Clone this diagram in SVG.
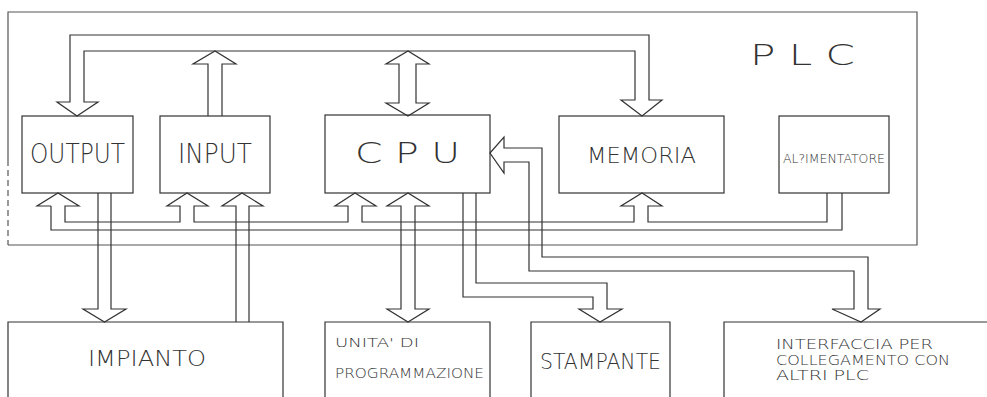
<svg xmlns="http://www.w3.org/2000/svg" width="987" height="397" viewBox="0 0 987 397">
<style>
.ln{fill:none;stroke:#333;stroke-width:1.2;stroke-linejoin:miter}
.box{fill:none;stroke:#333;stroke-width:1.2}
.frame{fill:none;stroke:#555;stroke-width:1.2}
.t{font-family:"DejaVu Sans","Liberation Sans",sans-serif;font-weight:200;fill:#333}
</style>
<rect width="987" height="397" fill="#fff"/>
<g id="plc-frame">
<path class="frame" d="M8,160 V12 H917 V245 H8"/>
<path class="frame" d="M8,160 V245" stroke-dasharray="6,4"/>
<text class="t" x="750" y="65" font-size="29" textLength="105" lengthAdjust="spacingAndGlyphs">P L C</text>
</g>
<g id="connectors">
<path class="ln" d="M70,102 H57 L77,116 L98,102 H84 V51 H635 V100 H621 L642,116 L662,100 H649 V35 H70 Z"/>
<path class="ln" d="M208,116 V64 H193 L215,51 L236,64 H222 V116"/>
<path class="ln" d="M399,64 H386 L408,51 L429,64 H416 V103 H429 L408,116 L386,103 H399 Z"/>
<path class="ln" d="M51,206 H37 L58,193 L79,206 H65 V222 H180 V206 H167 L187,193 L208,206 H194 V222 H348 V206 H335 L355,193 L376,206 H362 V222 H634 V206 H621 L642,193 L662,206 H648 V222 H827 V193 M842,193 V230 H51 V206"/>
<path class="ln" d="M236,322 V206 H222 L242,193 L263,206 H249 V322"/>
<path class="ln" d="M98,193 V309 H83 L104.5,322 L126,309 H111 V193"/>
<path class="ln" d="M401,206 H387 L408,193 L429,206 H415 V309 H429 L408,322 L387,309 H401 Z"/>
<path class="ln" d="M463,193 V297 H593 V309 H579 L600,322 L622,309 H607 V283 H476 V193"/>
<path class="ln" d="M490,153 L504,137 V148 H542 V257 H868 V309 H880 L861,322 L832,309 H854 V271 H529 V162 H504 V173 Z"/>
</g>
<g id="output">
<rect class="box" x="22" y="116" width="111" height="77"/>
<text class="t" x="30" y="163" font-size="26" textLength="95" lengthAdjust="spacingAndGlyphs">OUTPUT</text>
</g>
<g id="input">
<rect class="box" x="160" y="116" width="110" height="77"/>
<text class="t" x="178" y="163" font-size="26" textLength="74" lengthAdjust="spacingAndGlyphs">INPUT</text>
</g>
<g id="cpu">
<rect class="box" x="325" y="115" width="165" height="78"/>
<text class="t" x="355" y="163" font-size="28" textLength="105" lengthAdjust="spacingAndGlyphs">C P U</text>
</g>
<g id="memoria">
<rect class="box" x="559" y="116" width="165" height="77"/>
<text class="t" x="587" y="163" font-size="22" textLength="109" lengthAdjust="spacingAndGlyphs">MEMORIA</text>
</g>
<g id="alimentatore">
<rect class="box" x="779" y="116" width="110" height="77"/>
<text class="t" x="783" y="163" font-size="12.5" textLength="102" lengthAdjust="spacingAndGlyphs">AL?IMENTATORE</text>
</g>
<g id="impianto">
<path class="box" d="M8,397 V322 H283 V397"/>
<text class="t" x="88" y="366" font-size="21" textLength="118" lengthAdjust="spacingAndGlyphs">IMPIANTO</text>
</g>
<g id="unita">
<path class="box" d="M325,397 V322 H490 V397"/>
<text class="t" x="335" y="347" font-size="13" textLength="84" lengthAdjust="spacingAndGlyphs">UNITA' DI</text>
<text class="t" x="335" y="378" font-size="14" textLength="149" lengthAdjust="spacingAndGlyphs">PROGRAMMAZIONE</text>
</g>
<g id="stampante">
<path class="box" d="M531,397 V322 H670 V397"/>
<text class="t" x="540" y="369" font-size="22" textLength="121" lengthAdjust="spacingAndGlyphs">STAMPANTE</text>
</g>
<g id="interfaccia">
<path class="box" d="M724,397 V322 H987"/>
<text class="t" x="776" y="349" font-size="14.5" textLength="157" lengthAdjust="spacingAndGlyphs">INTERFACCIA PER</text>
<text class="t" x="776" y="365" font-size="14.5" textLength="174" lengthAdjust="spacingAndGlyphs">COLLEGAMENTO CON</text>
<text class="t" x="776" y="380" font-size="14.5" textLength="93" lengthAdjust="spacingAndGlyphs">ALTRI PLC</text>
</g>
</svg>
